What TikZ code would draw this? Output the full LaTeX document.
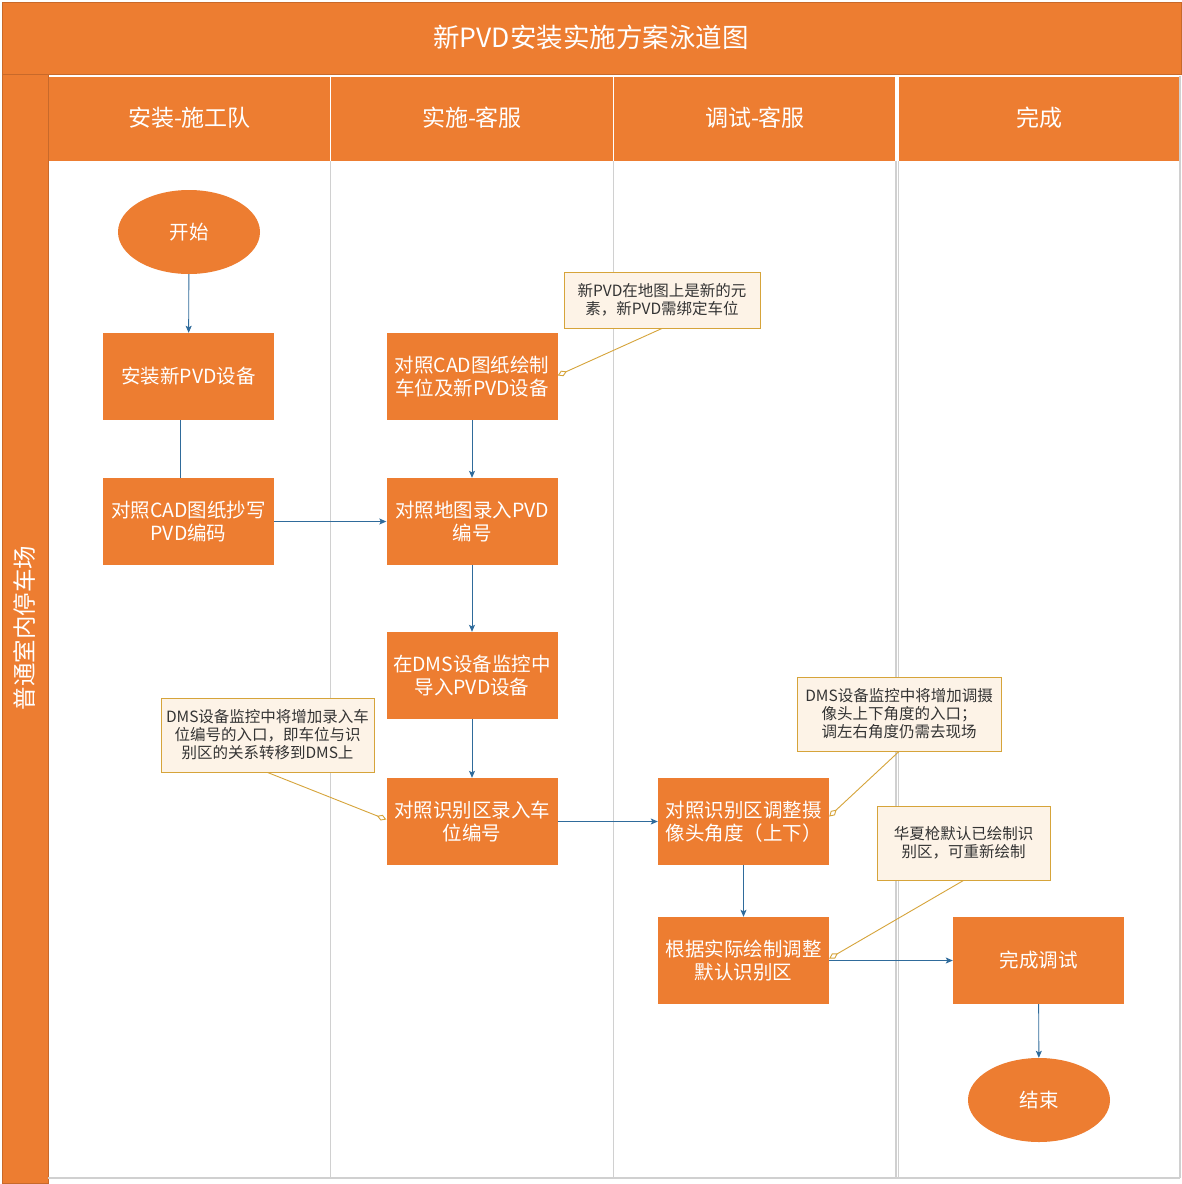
\documentclass[tikz,border=0pt]{standalone}
\usepackage{fontspec}
\setmainfont{Noto Sans CJK SC}
\usetikzlibrary{shapes.geometric,arrows.meta}
\definecolor{orng}{HTML}{ED7D31}
\definecolor{orngborder}{HTML}{C8692A}
\definecolor{callfill}{HTML}{FDF3E7}
\definecolor{callborder}{HTML}{D6A43A}
\definecolor{flowblue}{HTML}{2F6B9B}
\definecolor{lanegray}{HTML}{D0D0D0}
\tikzset{
  procbox/.style={rectangle, fill=orng, minimum width=171, minimum height=87, inner sep=0pt,
    text=white, font=\fontsize{19.5}{23}\selectfont, align=center},
  termnode/.style={ellipse, fill=orng, minimum width=142, minimum height=84, inner sep=0pt,
    text=white, font=\fontsize{19.5}{23}\selectfont},
  callnote/.style={rectangle, fill=callfill, draw=callborder, line width=0.9pt, inner sep=0pt,
    text=black!80, font=\fontsize{15.5}{18}\selectfont, align=center},
  headtext/.style={text=white, font=\fontsize{23}{26}\selectfont},
  flow/.style={draw=flowblue, line width=0.9pt, -{Stealth[length=7pt,width=6pt,inset=1.5pt]}},
  plainflow/.style={draw=flowblue, line width=0.9pt},
  noteline/.style={draw=callborder, line width=0.9pt, -{Diamond[open,length=10pt,width=6pt]}},
  laneline/.style={draw=lanegray, line width=1.6pt}
}
\begin{document}
\begin{tikzpicture}[x=1pt,y=-1pt]
\useasboundingbox (0,0) rectangle (1182,1184);
\fill[white] (0,0) rectangle (1182,1184);
% title bar and left band
\filldraw[fill=orng, draw=orngborder, line width=0.8pt] (2,2) rectangle (1181,74);
\filldraw[fill=orng, draw=orngborder, line width=0.8pt] (2,74) rectangle (48,1183);
\node[text=white, font=\fontsize{26.5}{30}\selectfont] (title) at (591,37) {新PVD安装实施方案泳道图};
\node[text=white, font=\fontsize{23.5}{26}\selectfont, rotate=90] (pool) at (24,628) {普通室内停车场};
% lane bodies
\draw[laneline] (48,1178) -- (1180,1178);
\draw[laneline] (330.5,161) -- (330.5,1178);
\draw[laneline] (613.5,161) -- (613.5,1178);
\draw[laneline] (895.8,161) -- (895.8,1178);
\draw[laneline] (898.6,161) -- (898.6,1178);
\draw[laneline] (1180.2,76) -- (1180.2,1178);
% lane headers
\fill[orng] (49,77) rectangle (329.6,161);
\fill[orng] (331.4,77) rectangle (612.6,161);
\fill[orng] (614.4,77) rectangle (895,161);
\fill[orng] (899.4,77) rectangle (1179.4,161);
\node[headtext] (h1) at (189.5,118) {安装-施工队};
\node[headtext] (h2) at (472,118) {实施-客服};
\node[headtext] (h3) at (755,118) {调试-客服};
\node[headtext] (h4) at (1039,118) {完成};
% flow nodes
\node[termnode] (start) at (189,232) {开始};
\node[procbox] (b1) at (188.5,376.5) {安装新PVD设备};
\node[procbox] (b3) at (188.5,521.5) {对照CAD图纸抄写\\PVD编码};
\node[procbox] (b2) at (472,376.5) {对照CAD图纸绘制\\车位及新PVD设备};
\node[procbox] (b4) at (472,521.5) {对照地图录入PVD\\编号};
\node[procbox] (b5) at (472,675.5) {在DMS设备监控中\\导入PVD设备};
\node[procbox] (b7) at (472,821.5) {对照识别区录入车\\位编号};
\node[procbox, align=left] (b8) at (743.5,821.5) {对照识别区调整摄\\像头角度（上下）};
\node[procbox] (b9) at (743.5,960.5) {根据实际绘制调整\\默认识别区};
\node[procbox] (b10) at (1038.5,960.5) {完成调试};
\node[termnode] (end) at (1039,1100) {结束};
% notes
\node[callnote, minimum width=196, minimum height=56] (c1) at (662,300) {新PVD在地图上是新的元\\素，新PVD需绑定车位};
\node[callnote, minimum width=213, minimum height=74] (c2) at (267.5,735) {DMS设备监控中将增加录入车\\位编号的入口，即车位与识\\别区的关系转移到DMS上};
\node[callnote, minimum width=204, minimum height=74] (c3) at (899,714) {DMS设备监控中将增加调摄\\像头上下角度的入口；\\调左右角度仍需去现场};
\node[callnote, minimum width=173, minimum height=74] (c4) at (963.5,843) {华夏枪默认已绘制识\\别区，可重新绘制};
% connectors
\draw[flow] (start) -- (b1);
\draw[plainflow] ([xshift=-8pt]b1.south) -- ([xshift=-8pt]b3.north);
\draw[flow] (b3) -- (b4);
\draw[flow] (b2) -- (b4);
\draw[flow] (b4) -- (b5);
\draw[flow] (b5) -- (b7);
\draw[flow] (b7) -- (b8);
\draw[flow] (b8) -- (b9);
\draw[flow] (b9) -- (b10);
\draw[flow] (b10) -- (end);
% note connectors
\draw[noteline] (c1.south) -- ([yshift=1pt]b2.east);
\draw[noteline] (c2.south) -- ([yshift=2pt]b7.west);
\draw[noteline] (c3.south) -- ([yshift=5pt]b8.east);
\draw[noteline] (c4.south) -- ([yshift=2pt]b9.east);
\end{tikzpicture}
\end{document}
